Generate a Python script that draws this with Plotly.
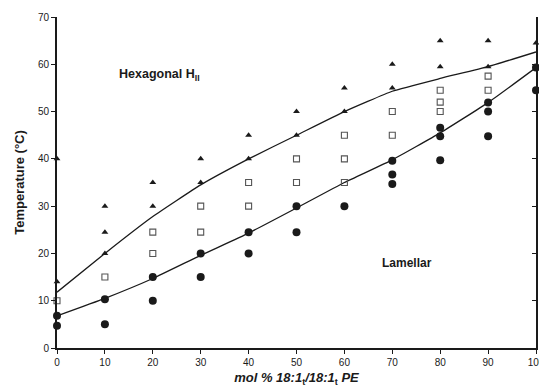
import plotly.graph_objects as go

# Hexagonal phase points (filled triangles)
tri_x = [0, 0, 10, 10, 10, 20, 20, 30, 30, 40, 40, 50, 50, 60, 60, 70, 70, 80, 80, 90, 90, 100]
tri_y = [40, 14, 30, 24.5, 20, 35, 30, 40, 35, 45, 40, 50, 45, 55, 50, 60, 55, 65, 59.5, 65, 59.5, 64.5]

# Mixed region points (open squares)
sq_x = [0, 10, 20, 20, 30, 30, 40, 40, 50, 50, 60, 60, 60, 70, 70, 80, 80, 80, 90, 90]
sq_y = [10, 15, 24.5, 20, 30, 24.5, 35, 30, 40, 35, 45, 40, 35, 50, 45, 54.5, 52, 50, 57.5, 54.5]

# Lamellar phase points (filled circles)
cir_x = [0, 0, 10, 10, 20, 20, 30, 30, 40, 40, 50, 50, 60, 70, 70, 70, 80, 80, 80, 90, 90, 90, 100, 100]
cir_y = [6.8, 4.7, 10.3, 5, 15, 10, 20, 15, 24.5, 20, 30, 24.5, 30, 39.6, 36.7, 34.7, 46.6, 44.8, 39.7, 51.9, 50, 44.8, 59.3, 54.5]

# Phase boundary curves
line_x = [0, 10, 20, 30, 40, 50, 60, 70, 80, 90, 100]
upper_y = [11.8, 20, 27.8, 34.5, 40, 45, 50, 54.3, 57, 59.5, 62.6]
lower_y = [6.8, 10.5, 14.7, 19.6, 24.3, 29.6, 35, 39.8, 45.5, 51.9, 59.3]

x_ticks = [0, 10, 20, 30, 40, 50, 60, 70, 80, 90, 100]
y_ticks = [0, 10, 20, 30, 40, 50, 60, 70]

ink = "#1a1a1a"
fig = go.Figure()
fig.add_trace(go.Scatter(x=line_x, y=upper_y, mode="lines", line=dict(color=ink, width=1.3, shape="spline", smoothing=0.4), hoverinfo="skip"))
fig.add_trace(go.Scatter(x=line_x, y=lower_y, mode="lines", line=dict(color=ink, width=1.3, shape="spline", smoothing=0.4), hoverinfo="skip"))
fig.add_trace(go.Scatter(x=tri_x, y=tri_y, mode="markers", marker=dict(symbol="triangle-up", size=6, color=ink), cliponaxis=False))
fig.add_trace(go.Scatter(x=sq_x, y=sq_y, mode="markers", marker=dict(symbol="square-open", size=6, color="#555555", line=dict(width=1.1)), cliponaxis=False))
fig.add_trace(go.Scatter(x=cir_x, y=cir_y, mode="markers", marker=dict(symbol="circle", size=8, color=ink), cliponaxis=False))
# right-hand axis (mirror with inward ticks)
fig.add_trace(go.Scatter(x=[100], y=[0], mode="markers", marker=dict(size=0.1, opacity=0), yaxis="y2", hoverinfo="skip"))

fig.add_annotation(x=21.5, y=57.8, text="<b>Hexagonal H</b><sub><b>II</b></sub>", showarrow=False,
                   font=dict(family="Liberation Sans, Arial", size=12.5, color=ink))
fig.add_annotation(x=73, y=18, text="<b>Lamellar</b>", showarrow=False,
                   font=dict(family="Liberation Sans, Arial", size=12, color=ink))

fig.update_layout(
    width=539, height=388,
    margin=dict(l=57, r=3, t=17, b=40, autoexpand=False),
    paper_bgcolor="white", plot_bgcolor="white",
    showlegend=False,
    font=dict(family="Liberation Sans, Arial", color=ink, size=10),
    xaxis=dict(range=[0, 100], tickvals=x_ticks, ticktext=[str(v) for v in x_ticks],
               showgrid=False, zeroline=False, showline=True, linecolor=ink, linewidth=1.5,
               ticks="outside", ticklen=4, tickcolor=ink, tickfont=dict(size=10),
               ticklabeloverflow="allow", automargin=False,
               title=dict(text="<b><i>mol % 18:1</i><sub>t</sub><i>/18:1</i><sub>t</sub><i> PE</i></b>", font=dict(size=13), standoff=6)),
    yaxis=dict(range=[0, 70], tickvals=y_ticks, ticktext=[str(v) for v in y_ticks],
               showgrid=False, zeroline=False, showline=True, linecolor=ink, linewidth=2,
               ticks="outside", ticklen=4, tickcolor=ink, tickfont=dict(size=10), automargin=False,
               title=dict(text="<b>Temperature (°C)</b>", font=dict(size=13), standoff=10)),
    yaxis2=dict(range=[0, 70], overlaying="y", side="right", tickvals=y_ticks, showticklabels=False,
                showgrid=False, zeroline=False, showline=True, linecolor=ink, linewidth=1.5,
                ticks="inside", ticklen=4, tickcolor=ink, automargin=False),
)

fig.write_html("out.html")
